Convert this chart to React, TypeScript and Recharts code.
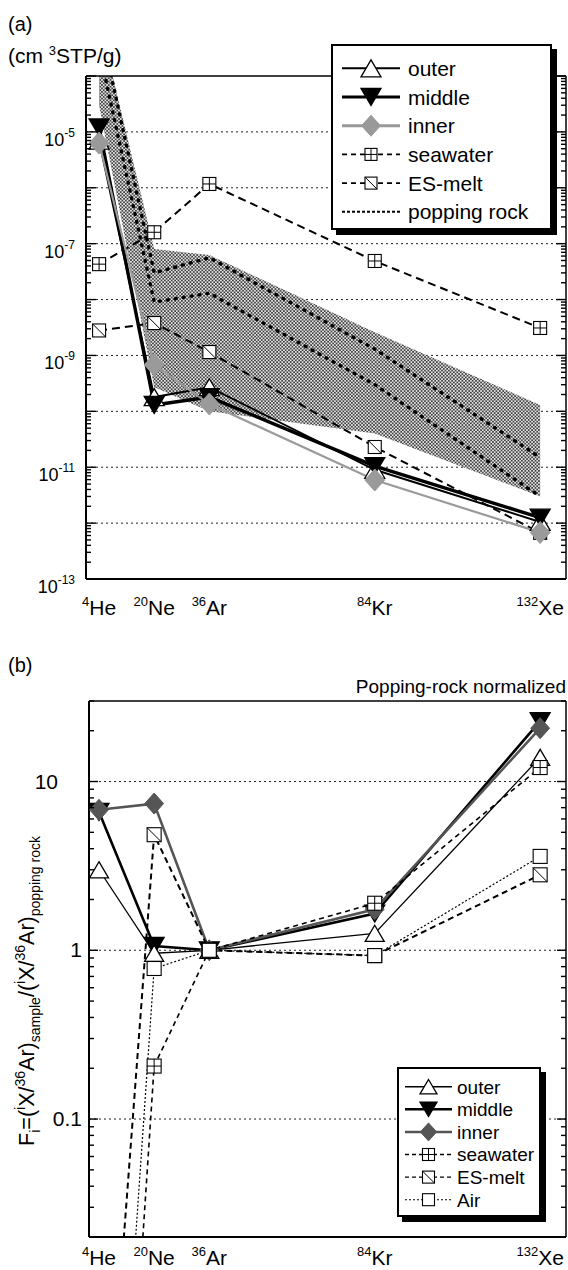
import React from "react";
import {
	CartesianGrid,
	ComposedChart,
	Area,
	Line,
	ReferenceLine,
	XAxis,
	YAxis,
} from "recharts";

const FONT = '"Liberation Sans", Arial, Helvetica, sans-serif';

// isotopes, placed along x by mass number
const MASS = [4, 20, 36, 84, 132];
const ISO_MASS_LABEL = ["4", "20", "36", "84", "132"];
const ISO_ELEMENT = ["He", "Ne", "Ar", "Kr", "Xe"];

// (a) concentrations, cm3STP/g
const OUTER_A = [7.0e-6, 1.8e-10, 2.7e-10, 9.0e-12, 1.05e-12];
const MIDDLE_A = [1.2e-5, 1.3e-10, 1.8e-10, 1.05e-11, 1.25e-12];
const INNER_A = [6.3e-6, 6.8e-10, 1.35e-10, 5.9e-12, 6.8e-13];
const SEAWATER_A = [4.3e-8, 1.6e-7, 1.17e-6, 4.9e-8, 3.1e-9];
const ESMELT_A = [2.8e-9, 3.8e-9, 1.15e-9, 2.3e-11, 6.7e-13];
// popping rock: two profiles plus the shaded range
const POP1_A = [1e-3, 3e-8, 5.6e-8, 1.3e-9, 1.5e-11];
const POP2_A = [3e-4, 9e-9, 1.3e-8, 3e-10, 3e-12];
const RANGE_HI_A = [1e-3, 8e-8, 6.3e-8, 2.6e-9, 1.3e-10];
const RANGE_LO_A = [3e-5, 2.7e-10, 1e-10, 4e-11, 3e-12];
const LABELED_EXP_A = [-5, -7, -9, -11, -13];

// (b) F values, normalised to 36Ar and popping rock
const OUTER_B = [3.0, 0.96, 1, 1.26, 13.9];
const MIDDLE_B = [6.6, 1.06, 1, 1.65, 22.8];
const INNER_B = [6.8, 7.4, 1, 1.75, 20.7];
const SEAWATER_B = [2.3e-6, 0.206, 1, 1.9, 12.1];
const ESMELT_B = [2.2e-4, 4.84, 1, 0.93, 2.8];
const AIR_B = [1.4e-5, 0.78, 1, 0.93, 3.6];
const LABELS_B: Record<string, { text: string; dx: number }> = {
	"10": { text: "10", dx: -31 },
	"1": { text: "1", dx: -7 },
	"0.1": { text: "0.1", dx: -7 },
};

const X_DOMAIN_A: [number, number] = [0.2, 139.5];
const Y_DOMAIN_A: [number, number] = [1e-13, 1e-4];
const X_DOMAIN_B: [number, number] = [1.1, 139.5];
const Y_DOMAIN_B: [number, number] = [0.02, 30];

function logTicks(lo: number, hi: number) {
	const out: number[] = [];
	for (let k = Math.floor(Math.log10(lo)); k <= Math.ceil(Math.log10(hi)); k++) {
		for (let m = 1; m < 10; m++) {
			const v = Number((m * Math.pow(10, k)).toPrecision(6));
			if (v >= lo * 0.999 && v <= hi * 1.001) out.push(v);
		}
	}
	return out;
}
const TICKS_A = logTicks(Y_DOMAIN_A[0], Y_DOMAIN_A[1]);
const TICKS_B = logTicks(Y_DOMAIN_B[0], Y_DOMAIN_B[1]);
const DECADES_A = TICKS_A.filter((v) => isDecade(v) && v > 1e-13 && v < 1e-4);
const DECADES_B = [0.1, 1, 10];

function isDecade(v: number) {
	const e = Math.log10(v);
	return Math.abs(e - Math.round(e)) < 1e-6;
}

type Kind = "up" | "down" | "diamond" | "plus" | "slash" | "square" | "none";

function Mark({ cx, cy, kind, size, color = "#000" }: { cx?: number; cy?: number; kind: Kind; size: number; color?: string }) {
	if (cx == null || cy == null || !isFinite(cx) || !isFinite(cy) || kind === "none") return null;
	const h = size / 2;
	if (kind === "up" || kind === "down") {
		const t = size * 0.85;
		const s = kind === "up" ? 1 : -1;
		const pts = `${cx},${cy - (s * t) / 2} ${cx + h},${cy + (s * t) / 2} ${cx - h},${cy + (s * t) / 2}`;
		return <polygon points={pts} fill={kind === "up" ? "#fff" : "#000"} stroke="#000" strokeWidth={1.3} />;
	}
	if (kind === "diamond") {
		const pts = `${cx},${cy - h} ${cx + h * 0.9},${cy} ${cx},${cy + h} ${cx - h * 0.9},${cy}`;
		return <polygon points={pts} fill={color} stroke={color} strokeWidth={1} />;
	}
	return (
		<g>
			<rect x={cx - h} y={cy - h} width={size} height={size} fill="#fff" stroke="#000" strokeWidth={1.1} />
			{kind === "plus" && (
				<path d={`M${cx - h},${cy} H${cx + h} M${cx},${cy - h} V${cy + h}`} stroke="#000" strokeWidth={1} />
			)}
			{kind === "slash" && <path d={`M${cx - h},${cy - h} L${cx + h},${cy + h}`} stroke="#000" strokeWidth={1} />}
		</g>
	);
}

const dotOf = (kind: Kind, size: number, color?: string) => (p: any) => (
	<Mark key={`${kind}-${p.index}`} cx={p.cx} cy={p.cy} kind={kind} size={size} color={color} />
);

function IsoTick(props: any) {
	const { x, y, payload, drop } = props;
	const i = MASS.indexOf(payload.value);
	if (i < 0) return null;
	return (
		<text x={x} y={y + drop} textAnchor="middle" fontFamily={FONT} fontSize={21} fill="#000">
			<tspan fontSize={13} dy={-9}>
				{ISO_MASS_LABEL[i]}
			</tspan>
			<tspan dy={9}>{ISO_ELEMENT[i]}</tspan>
		</text>
	);
}

function ConcTick(props: any) {
	const { x, y, payload, side } = props;
	const v = payload.value;
	const major = isDecade(v);
	const dir = side === "left" ? 1 : -1;
	const e = Math.round(Math.log10(v));
	return (
		<g>
			<line x1={x} x2={x + dir * (major ? 10 : 5)} y1={y} y2={y} stroke="#000" strokeWidth={1.4} />
			{side === "left" && major && LABELED_EXP_A.includes(e) && (
				<text x={x - 11} y={y + 14} textAnchor="end" fontFamily={FONT} fontSize={18} fill="#000">
					10
					<tspan fontSize={12} dy={-9}>
						{e}
					</tspan>
				</text>
			)}
		</g>
	);
}

function FTick(props: any) {
	const { x, y, payload, side } = props;
	const v = payload.value;
	const major = isDecade(v);
	const dir = side === "left" ? 1 : -1;
	const lab = LABELS_B[String(v)];
	return (
		<g>
			<line x1={x} x2={x + dir * (major ? 9 : 5)} y1={y} y2={y} stroke="#000" strokeWidth={1.4} />
			{side === "left" && lab && (
				<text x={x + lab.dx} y={y + 7} textAnchor="end" fontFamily={FONT} fontSize={21} fill="#000">
					{lab.text}
				</text>
			)}
		</g>
	);
}

// text with sub/superscript runs
function Rich({ parts, fs, small }: { parts: [string, "n" | "sup" | "sub"][]; fs: number; small: number }) {
	let prev = 0;
	return (
		<>
			{parts.map(([t, k], i) => {
				const off = k === "sup" ? -fs * 0.4 : k === "sub" ? fs * 0.3 : 0;
				const dy = off - prev;
				prev = off;
				return (
					<tspan key={i} dy={dy} fontSize={k === "n" ? fs : small}>
						{t}
					</tspan>
				);
			})}
		</>
	);
}

type Item = { name: string; kind: Kind; stroke: string; width: number; dash?: string; size: number; color?: string };

const LEGEND_A: Item[] = [
	{ name: "outer", kind: "up", stroke: "#000", width: 2, size: 20 },
	{ name: "middle", kind: "down", stroke: "#000", width: 3, size: 20 },
	{ name: "inner", kind: "diamond", stroke: "#999", width: 3, size: 21, color: "#999" },
	{ name: "seawater", kind: "plus", stroke: "#000", width: 1.6, dash: "5 4", size: 12 },
	{ name: "ES-melt", kind: "slash", stroke: "#000", width: 1.6, dash: "5 4", size: 12 },
	{ name: "popping rock", kind: "none", stroke: "#000", width: 2, dash: "3 2", size: 0 },
];

const LEGEND_B: Item[] = [
	{ name: "outer", kind: "up", stroke: "#000", width: 1.5, size: 17 },
	{ name: "middle", kind: "down", stroke: "#000", width: 2.5, size: 17 },
	{ name: "inner", kind: "diamond", stroke: "#555", width: 2.5, size: 18, color: "#555" },
	{ name: "seawater", kind: "plus", stroke: "#000", width: 1.3, dash: "4 3", size: 12 },
	{ name: "ES-melt", kind: "slash", stroke: "#000", width: 1.3, dash: "4 3", size: 12 },
	{ name: "Air", kind: "square", stroke: "#000", width: 1.1, dash: "2 2", size: 12 },
];

function LegendBox(p: {
	items: Item[];
	left: number;
	top: number;
	width: number;
	height: number;
	rowTop: number;
	rowStep: number;
	x0: number;
	x1: number;
	textX: number;
	fs: number;
	shadow: number;
}) {
	return (
		<div
			style={{
				position: "absolute",
				left: p.left,
				top: p.top,
				width: p.width,
				height: p.height,
				boxSizing: "border-box",
				border: "2px solid #000",
				background: "#fff",
				boxShadow: `${p.shadow}px ${p.shadow}px 0 #000`,
			}}
		>
			<svg width={p.width - 4} height={p.height - 4} style={{ position: "absolute", left: 0, top: 0 }}>
				{p.items.map((it, i) => {
					const y = p.rowTop + i * p.rowStep;
					return (
						<g key={it.name}>
							<line x1={p.x0} x2={p.x1} y1={y} y2={y} stroke={it.stroke} strokeWidth={it.width} strokeDasharray={it.dash} />
							<Mark cx={(p.x0 + p.x1) / 2} cy={y} kind={it.kind} size={it.size} color={it.color} />
							<text x={p.textX} y={y + p.fs * 0.36} fontFamily={FONT} fontSize={p.fs} fill="#000">
								{it.name}
							</text>
						</g>
					);
				})}
			</svg>
		</div>
	);
}

export default function App() {
	const rowsA = MASS.map((m, i) => ({
		mass: m,
		outer: OUTER_A[i],
		middle: MIDDLE_A[i],
		inner: INNER_A[i],
		seawater: SEAWATER_A[i],
		esmelt: ESMELT_A[i],
		pop1: POP1_A[i],
		pop2: POP2_A[i],
		range: [RANGE_LO_A[i], RANGE_HI_A[i]],
	}));
	const rowsB = MASS.map((m, i) => ({
		mass: m,
		outer: OUTER_B[i],
		middle: MIDDLE_B[i],
		inner: INNER_B[i],
		seawater: SEAWATER_B[i],
		esmelt: ESMELT_B[i],
		air: AIR_B[i],
	}));

	return (
		<div style={{ position: "absolute", left: 0, top: 0, width: 568, height: 1270, background: "#fff", overflow: "hidden" }}>
			<svg width={0} height={0} style={{ position: "absolute" }}>
				<defs>
					<pattern id="crosshatch" width={3.4} height={3.4} patternUnits="userSpaceOnUse">
						<rect width={3.4} height={3.4} fill="#e4e4e4" />
						<path d="M0,0 L3.4,3.4 M3.4,0 L0,3.4" stroke="#2a2a2a" strokeWidth={0.75} />
					</pattern>
				</defs>
			</svg>

			{/* (a) concentrations */}
			<div style={{ position: "absolute", left: 0, top: 0 }}>
				<ComposedChart width={568} height={640} data={rowsA} margin={{ top: 76, right: 0, bottom: 0, left: 0 }}>
					<CartesianGrid vertical={false} horizontalValues={DECADES_A} stroke="#222" strokeDasharray="2 3" />
					<XAxis
						dataKey="mass"
						type="number"
						domain={X_DOMAIN_A}
						allowDataOverflow
						ticks={MASS}
						interval={0}
						tickLine={false}
						tickSize={0}
						tickMargin={0}
						height={61}
						axisLine={{ stroke: "#000", strokeWidth: 2 }}
						tick={(p: any) => <IsoTick {...p} drop={36} />}
					/>
					<YAxis
						type="number"
						scale="log"
						domain={Y_DOMAIN_A}
						allowDataOverflow
						ticks={TICKS_A}
						interval={0}
						tickLine={false}
						tickSize={0}
						tickMargin={0}
						width={86}
						axisLine={{ stroke: "#000", strokeWidth: 2 }}
						tick={(p: any) => <ConcTick {...p} side="left" />}
					/>
					<YAxis
						yAxisId="right"
						orientation="right"
						type="number"
						scale="log"
						domain={Y_DOMAIN_A}
						allowDataOverflow
						ticks={TICKS_A}
						interval={0}
						tickLine={false}
						tickSize={0}
						tickMargin={0}
						width={2}
						axisLine={{ stroke: "#000", strokeWidth: 1.5 }}
						tick={(p: any) => <ConcTick {...p} side="right" />}
					/>
					<ReferenceLine y={1e-4} stroke="#000" strokeWidth={1.5} />
					<Area dataKey="range" type="linear" fill="url(#crosshatch)" fillOpacity={1} stroke="none" dot={false} activeDot={false} isAnimationActive={false} />
					<Line dataKey="pop1" stroke="#000" strokeWidth={3.4} strokeDasharray="1 7" strokeLinecap="round" dot={false} activeDot={false} isAnimationActive={false} />
					<Line dataKey="pop2" stroke="#000" strokeWidth={3.4} strokeDasharray="1 7" strokeLinecap="round" dot={false} activeDot={false} isAnimationActive={false} />
					<Line dataKey="seawater" stroke="#000" strokeWidth={2} strokeDasharray="8 5" dot={dotOf("plus", 13)} activeDot={false} isAnimationActive={false} />
					<Line dataKey="esmelt" stroke="#000" strokeWidth={2} strokeDasharray="8 5" dot={dotOf("slash", 13)} activeDot={false} isAnimationActive={false} />
					<Line dataKey="outer" stroke="#000" strokeWidth={2} dot={dotOf("up", 20)} activeDot={false} isAnimationActive={false} />
					<Line dataKey="middle" stroke="#000" strokeWidth={3.4} dot={dotOf("down", 20)} activeDot={false} isAnimationActive={false} />
					<Line dataKey="inner" stroke="#9a9a9a" strokeWidth={2.2} dot={dotOf("diamond", 22, "#9a9a9a")} activeDot={false} isAnimationActive={false} />
				</ComposedChart>
			</div>

			{/* (b) popping-rock normalized fractionation factors */}
			<div style={{ position: "absolute", left: 0, top: 640 }}>
				<ComposedChart width={568} height={630} data={rowsB} margin={{ top: 61, right: 0, bottom: 0, left: 0 }}>
					<CartesianGrid vertical={false} horizontalValues={DECADES_B} stroke="#222" strokeDasharray="2 3" />
					<XAxis
						dataKey="mass"
						type="number"
						domain={X_DOMAIN_B}
						allowDataOverflow
						ticks={MASS}
						interval={0}
						tickLine={false}
						tickSize={0}
						tickMargin={0}
						height={33}
						axisLine={{ stroke: "#000", strokeWidth: 2 }}
						tick={(p: any) => <IsoTick {...p} drop={28} />}
					/>
					<YAxis
						type="number"
						scale="log"
						domain={Y_DOMAIN_B}
						allowDataOverflow
						ticks={TICKS_B}
						interval={0}
						tickLine={false}
						tickSize={0}
						tickMargin={0}
						width={89}
						axisLine={{ stroke: "#000", strokeWidth: 2 }}
						tick={(p: any) => <FTick {...p} side="left" />}
					/>
					<YAxis
						yAxisId="right"
						orientation="right"
						type="number"
						scale="log"
						domain={Y_DOMAIN_B}
						allowDataOverflow
						ticks={TICKS_B}
						interval={0}
						tickLine={false}
						tickSize={0}
						tickMargin={0}
						width={2}
						axisLine={{ stroke: "#000", strokeWidth: 1.5 }}
						tick={(p: any) => <FTick {...p} side="right" />}
					/>
					<ReferenceLine y={30} stroke="#000" strokeWidth={1.5} />
					<Line dataKey="middle" stroke="#000" strokeWidth={2.6} dot={dotOf("down", 20)} activeDot={false} isAnimationActive={false} />
					<Line dataKey="inner" stroke="#555" strokeWidth={2.6} dot={dotOf("diamond", 21, "#555")} activeDot={false} isAnimationActive={false} />
					<Line dataKey="outer" stroke="#000" strokeWidth={1.3} dot={dotOf("up", 19)} activeDot={false} isAnimationActive={false} />
					<Line dataKey="seawater" stroke="#000" strokeWidth={1.6} strokeDasharray="5 4" dot={dotOf("plus", 14)} activeDot={false} isAnimationActive={false} />
					<Line dataKey="esmelt" stroke="#000" strokeWidth={2} strokeDasharray="6 4" dot={dotOf("slash", 14)} activeDot={false} isAnimationActive={false} />
					<Line dataKey="air" stroke="#000" strokeWidth={1.2} strokeDasharray="2 2" dot={dotOf("square", 14)} activeDot={false} isAnimationActive={false} />
				</ComposedChart>
			</div>

			{/* panel captions and axis titles */}
			<svg width={568} height={1270} style={{ position: "absolute", left: 0, top: 0, pointerEvents: "none" }}>
				<text x={8} y={31} fontFamily={FONT} fontSize={20} fill="#000">
					(a)
				</text>
				<text x={8} y={63} fontFamily={FONT} fontSize={21} fill="#000">
					<Rich
						fs={21}
						small={13}
						parts={[
							["(cm ", "n"],
							["3", "sup"],
							["STP/g)", "n"],
						]}
					/>
				</text>
				<text x={8} y={672} fontFamily={FONT} fontSize={20} fill="#000">
					(b)
				</text>
				<text x={566} y={693} textAnchor="end" fontFamily={FONT} fontSize={19} fill="#000">
					Popping-rock normalized
				</text>
				<text transform="translate(34 991) rotate(-90)" textAnchor="middle" fontFamily={FONT} fontSize={21.5} fill="#000">
					<Rich
						fs={21.5}
						small={14}
						parts={[
							["F", "n"],
							["i", "sub"],
							["=(", "n"],
							["i", "sup"],
							["X/", "n"],
							["36", "sup"],
							["Ar)", "n"],
							["sample", "sub"],
							["/(", "n"],
							["i", "sup"],
							["X/", "n"],
							["36", "sup"],
							["Ar)", "n"],
							["popping rock", "sub"],
						]}
					/>
				</text>
			</svg>

			<LegendBox items={LEGEND_A} left={331} top={44} width={221} height={186} rowTop={22.3} rowStep={28.7} x0={9} x1={67} textX={75} fs={21} shadow={5} />
			<LegendBox items={LEGEND_B} left={397} top={1067} width={144} height={150} rowTop={17.7} rowStep={22.6} x0={6} x1={53} textX={58} fs={19} shadow={5} />
		</div>
	);
}
